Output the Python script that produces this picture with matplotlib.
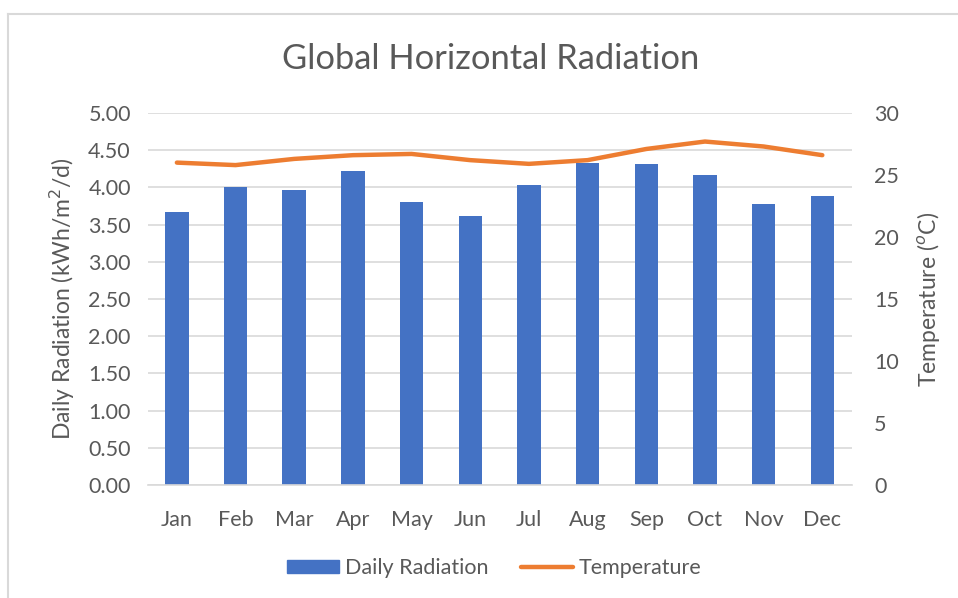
import numpy as np
import matplotlib
matplotlib.use("Agg")
import matplotlib.pyplot as plt
from matplotlib.lines import Line2D

months = ["Jan", "Feb", "Mar", "Apr", "May", "Jun",
          "Jul", "Aug", "Sep", "Oct", "Nov", "Dec"]
radiation = [3.67, 4.00, 3.97, 4.22, 3.81, 3.61,
             4.03, 4.33, 4.31, 4.17, 3.78, 3.89]   # kWh/m2/d
temperature = [26.0, 25.8, 26.3, 26.6, 26.7, 26.2,
               25.9, 26.2, 27.1, 27.7, 27.3, 26.6]  # degC

plt.rcParams['font.family'] = ['Lato', 'DejaVu Sans']
txt = '#595959'
grid = '#D9D9D9'

fig = plt.figure(figsize=(9.58, 5.98), dpi=100)
ax = fig.add_axes([0.154, 0.189, 0.735, 0.622])
ax2 = ax.twinx()

x = np.arange(len(months))
ax.bar(x, radiation, width=0.4, color='#4472C4', zorder=2, label='Daily Radiation')
ax2.plot(x, temperature, color='#ED7D31', lw=3.2, solid_capstyle='round',
         solid_joinstyle='round', label='Temperature')

ax.set_xlim(-0.5, 11.5)
ax.set_ylim(0, 5)
ax2.set_ylim(0, 30)
ax.set_yticks(np.arange(0, 5.01, 0.5))
ax.set_yticklabels([f"{v:.2f}" for v in np.arange(0, 5.01, 0.5)])
ax2.set_yticks(np.arange(0, 31, 5))
ax.set_xticks(x)
ax.set_xticklabels(months)

ax.grid(axis='y', color=grid, lw=1.2, zorder=0)
ax.set_axisbelow(True)
for a in (ax, ax2):
    for s in a.spines.values():
        s.set_visible(False)
    a.tick_params(length=0, labelsize=15.5, colors=txt)
ax.spines['bottom'].set_visible(True)
ax.spines['bottom'].set_color(grid)
ax.spines['bottom'].set_linewidth(1.2)
ax.tick_params(axis='x', pad=18)
ax.tick_params(axis='y', pad=12)
ax2.tick_params(axis='y', pad=16)

ax.set_ylabel("Daily Radiation (kWh/m$^2$/d)", fontsize=16.5, color=txt, labelpad=8)
ax2.set_ylabel("Temperature ($^{o}$C)", fontsize=16.5, color=txt, labelpad=12)
fig.text(0.512, 0.902, "Global Horizontal Radiation", fontsize=24.8, color=txt,
         ha='center', va='center')

handles = [plt.Rectangle((0, 0), 1, 1, color='#4472C4'),
           Line2D([0], [0], color='#ED7D31', lw=3.2, solid_capstyle='round')]
fig.legend(handles, ['Daily Radiation', 'Temperature'], loc='center',
           bbox_to_anchor=(0.516, 0.05), ncol=2, frameon=False, fontsize=15.5,
           labelcolor=txt, handlelength=2.4, handleheight=0.6, handletextpad=0.3,
           columnspacing=1.5)

# chart border (partially cropped in the reference)
fig.add_artist(Line2D([8/958, 8/958], [0, 1-14/598], transform=fig.transFigure,
                      color=grid, lw=1.5))
fig.add_artist(Line2D([8/958, 1], [1-14/598, 1-14/598], transform=fig.transFigure,
                      color=grid, lw=1.5))

fig.savefig("out.png", dpi=100)
